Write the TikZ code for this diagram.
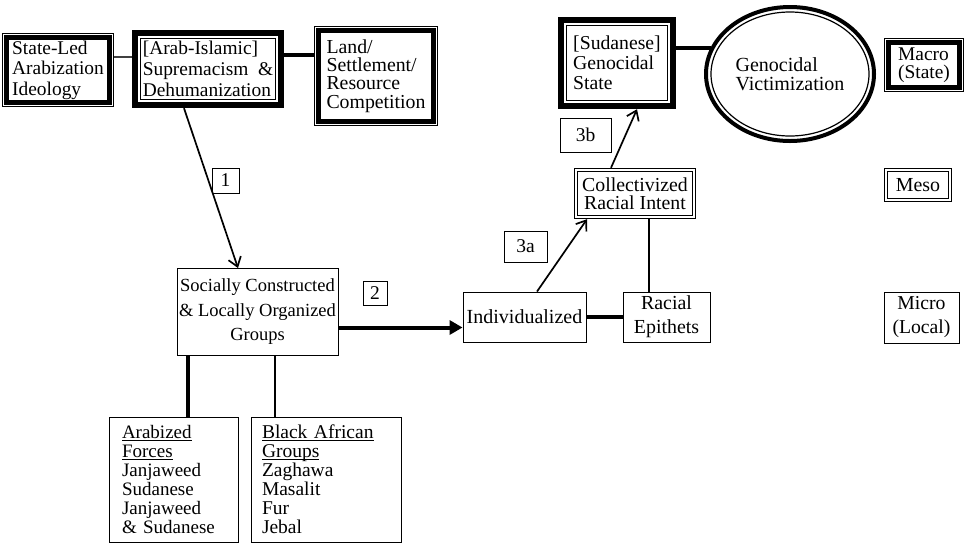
\documentclass[tikz,border=0pt]{standalone}
\usepackage{fontspec}
\setmainfont{Liberation Serif}
\usetikzlibrary{arrows.meta,shapes.geometric,calc}
\newcommand{\thinthick}[1]{%
  \draw[line width=1pt] ([shift={(0.5pt,-0.5pt)}]#1.north west) rectangle ([shift={(-0.5pt,0.5pt)}]#1.south east);
  \draw[line width=5pt] ([shift={(5pt,-5pt)}]#1.north west) rectangle ([shift={(-5pt,5pt)}]#1.south east);}
\newcommand{\thickthin}[1]{%
  \draw[line width=6pt] ([shift={(3pt,-3pt)}]#1.north west) rectangle ([shift={(-3pt,3pt)}]#1.south east);
  \draw[line width=1pt] ([shift={(8.5pt,-8.5pt)}]#1.north west) rectangle ([shift={(-8.5pt,8.5pt)}]#1.south east);}
\newcommand{\dblthin}[1]{%
  \draw[line width=0.9pt] ([shift={(0.45pt,-0.45pt)}]#1.north west) rectangle ([shift={(-0.45pt,0.45pt)}]#1.south east);
  \draw[line width=0.9pt] ([shift={(3.5pt,-3.5pt)}]#1.north west) rectangle ([shift={(-3.5pt,3.5pt)}]#1.south east);}
\newcommand{\ulx}[1]{\underline{\raisebox{0pt}[\height][0pt]{#1}}}
\begin{document}
\begin{tikzpicture}[x=1pt,y=-1pt,
  box/.style={rectangle,inner sep=0pt,align=left},
  txt/.style 2 args={font=\fontsize{#1}{#2}\selectfont},
  plainbox/.style={draw,line width=0.9pt},
  lab/.style={draw,line width=0.9pt,rectangle,inner sep=0pt,font=\fontsize{19.5}{20}\selectfont},
  barb/.style={-{Straight Barb[length=9pt,width=13pt,line width=1.7pt]},line width=1.7pt}
]
\useasboundingbox (0,0) rectangle (970,550);

% macro level
\node[box,txt={19.4}{20.5},minimum width=112pt,minimum height=74pt] (stateled) at (58,70) {State-Led\\Arabization\\Ideology};
\node[box,txt={19.4}{21},minimum width=152pt,minimum height=78pt] (arab) at (208,69) {[Arab-Islamic]\\Supremacism~~\&\\Dehumanization};
\node[box,txt={19.8}{18.3},minimum width=124pt,minimum height=100pt] (land) at (376,76) {Land/\\Settlement/\\Resource\\Competition};
\node[box,txt={19.7}{20},minimum width=118pt,minimum height=92pt] (sud) at (617,63) {[Sudanese]\\Genocidal\\State};
\node[ellipse,inner sep=0pt,minimum width=172pt,minimum height=138pt,align=left,txt={20}{18.5}] (vict) at (790,74) {Genocidal\\Victimization};
\node[box,txt={19.4}{17.5},minimum width=80pt,minimum height=54pt] (macro) at (924,65) {Macro\\(State)};
\node[box,txt={19.9}{20},minimum width=68pt,minimum height=34pt] (meso) at (918,185) {Meso};
\node[box,plainbox,txt={19.7}{24},minimum width=75pt,minimum height=51pt,align=center] (micro) at (921.5,317.5) {Micro\\(Local)};

% meso / micro
\node[box,txt={19.8}{18},minimum width=122pt,minimum height=51pt,align=center] (coll) at (635,193.5) {Collectivized\\Racial Intent};
\node[box,plainbox,txt={20}{20},minimum width=123pt,minimum height=50pt] (indiv) at (524.5,317) {Individualized};
\node[box,plainbox,txt={19.9}{24},minimum width=87pt,minimum height=50pt,align=center] (epith) at (666.5,317) {Racial\\Epithets};
\node[box,plainbox,txt={18.5}{24.5},minimum width=161pt,minimum height=87pt,align=center] (social) at (257.5,312) {Socially Constructed\\\& Locally Organized\\Groups};
\node[box,plainbox,txt={19}{19},minimum width=129pt,minimum height=125pt,text width=103pt] (arabized) at (173.5,479.5) {\ulx{Arabized}\\\ulx{Forces}\\Janjaweed\\Sudanese\\Janjaweed\\\& Sudanese};
\node[box,plainbox,txt={19.5}{19},minimum width=150pt,minimum height=125pt,text width=128pt] (black) at (326,479.5) {\ulx{Black African}\\\ulx{Groups}\\Zaghawa\\Masalit\\Fur\\Jebal};

% labels
\node[lab,minimum width=27pt,minimum height=25pt] (l1) at (225.5,180.5) {1};
\node[lab,minimum width=24pt,minimum height=24pt] (l2) at (375,293) {2};
\node[lab,minimum width=43pt,minimum height=31pt] (l3a) at (525.5,246.5) {3a};
\node[lab,minimum width=51pt,minimum height=34pt] (l3b) at (585.5,135) {3b};

% borders
\thinthick{stateled}
\thinthick{land}
\thinthick{macro}
\thickthin{arab}
\thickthin{sud}
\dblthin{coll}
\dblthin{meso}
\draw[line width=4pt] (vict.center) ellipse [x radius=84pt, y radius=67pt];
\draw[line width=1.2pt] (vict.center) ellipse [x radius=79pt, y radius=62pt];

% connectors
\draw[line width=2pt,black!75] ([yshift=13pt]stateled.east) -- ([yshift=13pt]stateled.east -| arab.west);
\draw[line width=3.5pt] ([yshift=14pt]arab.east) -- ([yshift=14pt]arab.east -| land.west);
\draw[line width=3.5pt] ([yshift=15pt]sud.east) -- ([yshift=15pt]sud.east -| vict.161);
\draw[barb] ([xshift=-24pt]arab.south) -- ([xshift=-19.5pt]social.north);
\draw[line width=4pt,-{Triangle[length=13pt,width=14pt]}] ([yshift=-15.5pt]social.east) -- ([yshift=-15.5pt]social.east -| indiv.west);
\draw[line width=3.5pt] (indiv.east) -- (indiv.east -| epith.west);
\draw[line width=1.8pt] ([xshift=-17.5pt]epith.north) -- ([xshift=-17.5pt]epith.north |- coll.south);
\draw[barb] ([xshift=12.5pt]indiv.north) -- ([xshift=-48pt]coll.south);
\draw[barb] ([xshift=-24pt]coll.north) -- ([xshift=20pt]sud.south);
\draw[line width=3.5pt] ([xshift=-69.5pt]social.south) -- ([xshift=-69.5pt]social.south |- arabized.north);
\draw[line width=2pt] ([xshift=17.5pt]social.south) -- ([xshift=17.5pt]social.south |- black.north);
\end{tikzpicture}
\end{document}
